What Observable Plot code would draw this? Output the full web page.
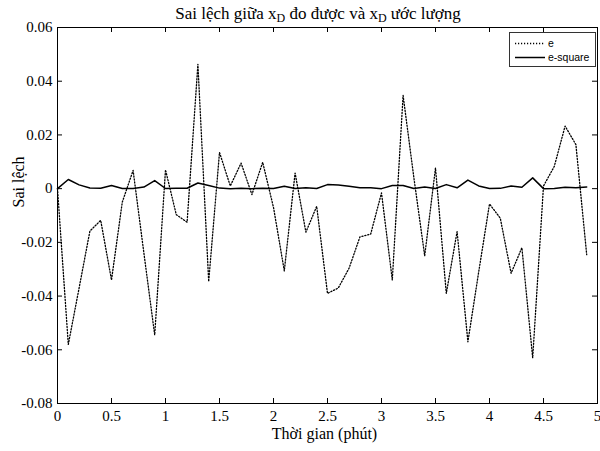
<!DOCTYPE html>
<html>
<head>
<meta charset="utf-8">
<script src="https://cdn.jsdelivr.net/npm/d3@7"></script>
<script src="https://cdn.jsdelivr.net/npm/@observablehq/plot@0.6"></script>
<style>
  html, body { margin: 0; padding: 0; background: white; }
  #chart svg { display: block; }
</style>
</head>
<body>
<div id="chart"></div>
<script>
// Time samples (minutes)
const time = [0,0.1,0.2,0.3,0.4,0.5,0.6,0.7,0.8,0.9,
              1.0,1.1,1.2,1.3,1.4,1.5,1.6,1.7,1.8,1.9,
              2.0,2.1,2.2,2.3,2.4,2.5,2.6,2.7,2.8,2.9,
              3.0,3.1,3.2,3.3,3.4,3.5,3.6,3.7,3.8,3.9,
              4.0,4.1,4.2,4.3,4.4,4.5,4.6,4.7,4.8,4.9];
// Series "e" (dotted)
const eValues = [0,-0.058,-0.037,-0.0158,-0.0118,-0.034,-0.005,0.0068,-0.024,-0.0545,
                 0.007,-0.0097,-0.0125,0.0463,-0.0346,0.0135,0.001,0.0095,-0.0022,0.0098,
                 -0.007,-0.0306,0.0058,-0.0162,-0.0066,-0.039,-0.037,-0.0296,-0.018,-0.0169,
                 -0.0016,-0.034,0.0347,0.004,-0.025,0.0077,-0.039,-0.016,-0.057,-0.031,
                 -0.0057,-0.011,-0.0315,-0.022,-0.063,0.001,0.0083,0.0233,0.0164,-0.0246];
// Series "e-square" (solid)
const eSquare = [0,0.0034,0.0014,0.00025,0.00014,0.0012,0.00003,0.00005,0.0006,0.003,
                 0.00005,0.0001,0.00016,0.0021,0.0012,0.0002,0,0.0001,0,0.0001,
                 0.00005,0.0009,0.00003,0.0003,0.00004,0.0015,0.0014,0.0009,0.0003,0.0003,
                 0,0.0012,0.0012,0.00002,0.0006,0.00006,0.0015,0.0003,0.0032,0.001,
                 0.00003,0.0001,0.001,0.0005,0.004,0,0.00007,0.0005,0.0003,0.0006];
// Tick values
const xTicks = [0,0.5,1,1.5,2,2.5,3,3.5,4,4.5,5];
const yTicks = [-0.08,-0.06,-0.04,-0.02,0,0.02,0.04,0.06];
const legendLabels = ["e", "e-square"];

const eData = time.map((t, i) => ({t, v: eValues[i]}));
const sqData = time.map((t, i) => ({t, v: eSquare[i]}));

const W = 600, H = 451;
const mL = 57, mR = 3, mT = 27, mB = 48;
const innerW = W - mL - mR, innerH = H - mT - mB;
const serif = "Liberation Serif";
const sans = "Liberation Sans";
const dotted = "1.2,1.8";

const chart = Plot.plot({
  width: W,
  height: H,
  marginLeft: mL, marginRight: mR, marginTop: mT, marginBottom: mB,
  style: {fontFamily: serif, fontSize: "15px", background: "white", color: "black"},
  x: {domain: [0, 5]},
  y: {domain: [-0.08, 0.06]},
  marks: [
    Plot.line(sqData, {x: "t", y: "v", stroke: "black", strokeWidth: 1.5}),
    Plot.line(eData, {x: "t", y: "v", stroke: "black", strokeWidth: 1.3, strokeDasharray: dotted}),
    Plot.frame({stroke: "black", strokeWidth: 1}),
    // inward ticks, all four sides
    Plot.ruleX(xTicks, {x: d => d, insetTop: innerH - 5, stroke: "black"}),
    Plot.ruleX(xTicks, {x: d => d, insetBottom: innerH - 5, stroke: "black"}),
    Plot.ruleY(yTicks, {y: d => d, insetRight: innerW - 5, stroke: "black"}),
    Plot.ruleY(yTicks, {y: d => d, insetLeft: innerW - 5, stroke: "black"}),
    Plot.axisX({ticks: xTicks, tickSize: 0, tickPadding: 7, tickFormat: d => String(d), label: null,
                fontSize: 15, fontFamily: serif, fill: "black"}),
    Plot.axisY({ticks: yTicks, tickSize: 0, tickPadding: 5, tickFormat: d => d === 0 ? "0" : d.toFixed(2), label: null,
                fontSize: 15, fontFamily: serif, fill: "black"}),
    Plot.text(["Thời gian (phút)"], {frameAnchor: "bottom", dy: 35, dx: -3, fontSize: 16, fontFamily: serif, fill: "black"}),
    Plot.text(["Sai lệch"], {frameAnchor: "left", dx: -39, dy: -8, rotate: -90, fontSize: 16, fontFamily: serif, fill: "black"})
  ]
});

document.getElementById("chart").appendChild(chart);

// Title with subscripts
const svg = d3.select(chart);
const title = svg.append("text")
  .attr("x", 318).attr("y", 18.5)
  .attr("text-anchor", "middle")
  .attr("font-family", serif)
  .attr("font-size", 17)
  .attr("fill", "black");
title.append("tspan").text("Sai lệch giữa x");
title.append("tspan").attr("font-size", 12).attr("dy", 3).text("D");
title.append("tspan").attr("dy", -3).text(" đo được và x");
title.append("tspan").attr("font-size", 12).attr("dy", 3).text("D");
title.append("tspan").attr("dy", -3).text(" ước lượng");

// Legend
const lx = 509, ly = 32, lw = 86, lh = 34;
const lg = svg.append("g");
lg.append("rect").attr("x", lx + 0.5).attr("y", ly + 0.5).attr("width", lw).attr("height", lh)
  .attr("fill", "white").attr("stroke", "#333").attr("stroke-width", 1);
const styles = [
  {dash: dotted, w: 1.3},
  {dash: null, w: 1.5}
];
legendLabels.forEach((lab, i) => {
  const yy = ly + 11.5 + i * 14;
  lg.append("line").attr("x1", lx + 6).attr("x2", lx + 36).attr("y1", yy).attr("y2", yy)
    .attr("stroke", "black").attr("stroke-width", styles[i].w)
    .attr("stroke-dasharray", styles[i].dash);
  lg.append("text").attr("x", lx + 39).attr("y", yy + 3.7)
    .attr("text-anchor", "start")
    .attr("font-family", sans).attr("font-size", 10.5).attr("fill", "black").text(lab);
});
</script>
</body>
</html>
